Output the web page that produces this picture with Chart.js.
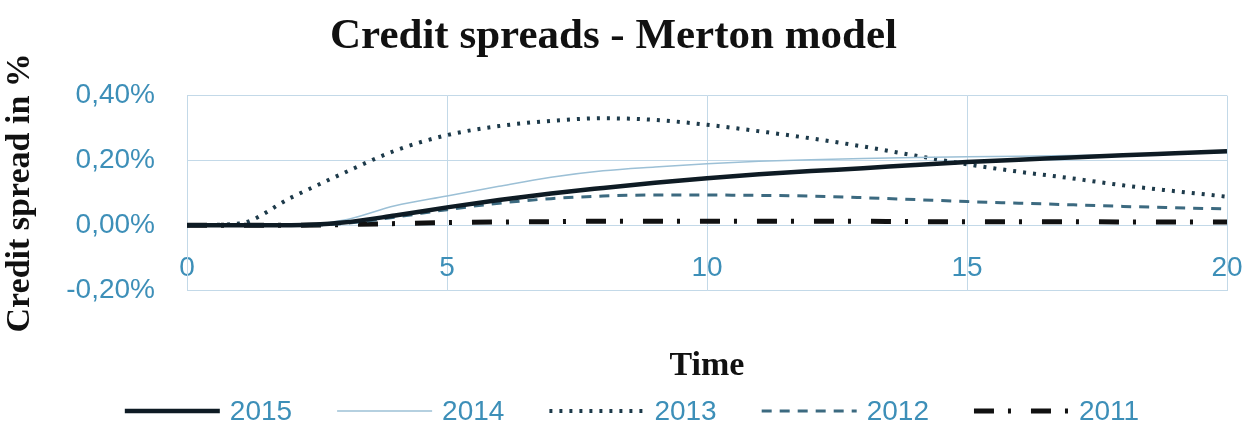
<!DOCTYPE html>
<html>
<head>
<meta charset="utf-8">
<script src="https://cdn.jsdelivr.net/npm/chart.js@4.4.1/dist/chart.umd.min.js"></script>
<style>
    html, body { margin: 0; padding: 0; background: #fff; }
    #wrap { width: 1257px; height: 434px; }
</style>
</head>
<body>
<div id="wrap"><canvas id="spreadChart" width="1257" height="434"></canvas></div>
<script>
// Time steps (years) and credit spreads in %
const timeSteps = [0, 1, 2, 3, 4, 5, 6, 7, 8, 9, 10, 11, 12, 13, 14, 15, 16, 17, 18, 19, 20];
const spread2015 = [0, 0, 0, 0.008, 0.03, 0.055, 0.078, 0.098, 0.115, 0.131, 0.145, 0.157, 0.167, 0.176, 0.186, 0.195, 0.202, 0.209, 0.216, 0.222, 0.228];
const spread2014 = [0, 0, 0, 0.015, 0.06, 0.09, 0.12, 0.148, 0.168, 0.18, 0.19, 0.197, 0.202, 0.206, 0.209, 0.211, 0.213, 0.215, 0.218, 0.221, 0.224];
const spread2013 = [0, 0.005, 0.085, 0.16, 0.23, 0.278, 0.306, 0.322, 0.33, 0.325, 0.31, 0.29, 0.268, 0.243, 0.215, 0.188, 0.165, 0.145, 0.123, 0.105, 0.088];
const spread2012 = [0, 0, 0, 0.005, 0.025, 0.048, 0.068, 0.082, 0.09, 0.093, 0.093, 0.092, 0.09, 0.085, 0.079, 0.073, 0.068, 0.063, 0.058, 0.054, 0.05];
const spread2011 = [0, 0, 0, 0.002, 0.005, 0.008, 0.01, 0.011, 0.012, 0.012, 0.012, 0.012, 0.012, 0.012, 0.011, 0.011, 0.011, 0.011, 0.01, 0.01, 0.01];
const seriesLabels = ['2015', '2014', '2013', '2012', '2011'];
const yTicks = [-0.2, 0, 0.2, 0.4];
const xTicks = [0, 5, 10, 15, 20];

const tickBlue = '#3d8fb8';
const gridBlue = '#c3d9e8';

function toPoints(values) {
    return timeSteps.map((t, i) => ({ x: t, y: values[i] }));
}

// Excel-like legend drawn under the axis title
const bottomLegend = {
    id: 'bottomLegend',
    afterDraw(chart) {
        const ctx = chart.ctx;
        const sample = 95, gap = 10, itemGap = 45, y = 411;
        ctx.save();
        ctx.font = '28px "Liberation Sans", Arial, sans-serif';
        ctx.textBaseline = 'middle';
        const items = chart.data.datasets.map(ds => ({ ds, w: ctx.measureText(ds.label).width }));
        const total = items.reduce((s, it) => s + sample + gap + it.w, 0) + itemGap * (items.length - 1);
        let x = 632 - total / 2;
        items.forEach(({ ds, w }) => {
            ctx.beginPath();
            ctx.strokeStyle = ds.borderColor;
            ctx.lineWidth = ds.borderWidth;
            ctx.lineCap = 'butt';
            ctx.setLineDash(ds.borderDash || []);
            ctx.moveTo(x, y);
            ctx.lineTo(x + sample, y);
            ctx.stroke();
            ctx.setLineDash([]);
            ctx.fillStyle = tickBlue;
            ctx.fillText(ds.label, x + sample + gap, y + 1);
            x += sample + gap + w + itemGap;
        });
        ctx.restore();
    }
};

const ctx = document.getElementById('spreadChart').getContext('2d');
new Chart(ctx, {
    type: 'line',
    data: {
        datasets: [
            { label: seriesLabels[0], data: toPoints(spread2015), borderColor: '#0e1b24', borderWidth: 4.5 },
            { label: seriesLabels[1], data: toPoints(spread2014), borderColor: '#9cc0d6', borderWidth: 1.5 },
            { label: seriesLabels[2], data: toPoints(spread2013), borderColor: '#1d3a4a', borderWidth: 4, borderDash: [3, 7] },
            { label: seriesLabels[3], data: toPoints(spread2012), borderColor: '#3c6a80', borderWidth: 3, borderDash: [10, 8] },
            { label: seriesLabels[4], data: toPoints(spread2011), borderColor: '#111111', borderWidth: 5, borderDash: [20, 14, 3, 20] }
        ]
    },
    options: {
        responsive: false,
        animation: false,
        cubicInterpolationMode: 'monotone',
        elements: { point: { radius: 0 }, line: { fill: false } },
        layout: { padding: { left: 0, right: 30, top: 0, bottom: 44 } },
        plugins: {
            legend: { display: false },
            tooltip: { enabled: false },
            title: {
                display: true,
                text: 'Credit spreads - Merton model',
                color: '#111',
                font: { family: '"Liberation Serif", "Times New Roman", serif', size: 43, weight: 'bold' },
                padding: { top: 11, bottom: 33 }
            }
        },
        scales: {
            x: {
                type: 'linear',
                min: 0,
                max: 20,
                afterFit: scale => { scale.height = 100; },
                afterBuildTicks: scale => { scale.ticks = xTicks.map(v => ({ value: v })); },
                grid: { color: gridBlue, drawTicks: false },
                border: { color: gridBlue },
                ticks: {
                    color: tickBlue,
                    mirror: true,
                    padding: 5,
                    font: { family: '"Liberation Sans", Arial, sans-serif', size: 28 }
                },
                title: {
                    display: true,
                    text: 'Time',
                    color: '#111',
                    font: { family: '"Liberation Serif", "Times New Roman", serif', size: 34, weight: 'bold' },
                    padding: { top: 0, bottom: 3 }
                }
            },
            y: {
                min: -0.2,
                max: 0.4,
                afterFit: scale => { scale.width = 187; },
                afterBuildTicks: scale => { scale.ticks = yTicks.map(v => ({ value: v })); },
                grid: { color: gridBlue, drawTicks: false },
                border: { color: gridBlue },
                ticks: {
                    color: tickBlue,
                    padding: 32,
                    font: { family: '"Liberation Sans", Arial, sans-serif', size: 28 },
                    callback: v => v.toFixed(2).replace('.', ',') + '%'
                },
                title: {
                    display: true,
                    text: 'Credit spread in %',
                    color: '#111',
                    font: { family: '"Liberation Serif", "Times New Roman", serif', size: 34, weight: 'bold' },
                    padding: { top: 0, bottom: 0, left: 4, right: 0 }
                }
            }
        }
    },
    plugins: [bottomLegend]
});
</script>
</body>
</html>
